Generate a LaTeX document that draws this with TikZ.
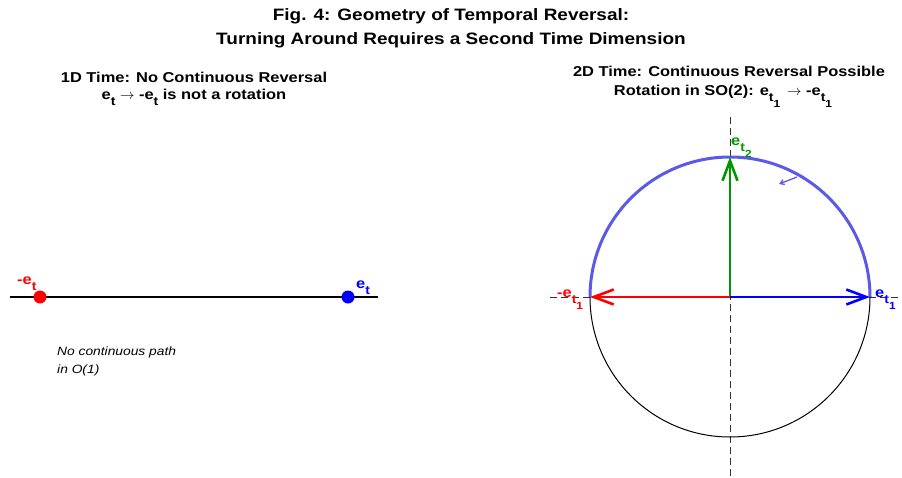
\documentclass[tikz,border=0pt]{standalone}
\usepackage{fontspec}
\setmainfont{Liberation Sans}[FakeStretch=1.15]
\usetikzlibrary{arrows.meta,positioning}
\definecolor{arcblue}{HTML}{5A5AE6}
\definecolor{vecgreen}{HTML}{009600}
\newcommand{\lowidx}[1]{\raisebox{-0.9ex}{\scalebox{0.85}{#1}}}

\begin{document}
\begin{tikzpicture}[
  x=1pt,
  y=-1pt,
  headline/.style={font=\fontsize{16.5}{20}\selectfont\bfseries, anchor=base, inner sep=0pt},
  subhead/.style={font=\fontsize{14.3}{17}\selectfont\bfseries, anchor=base, inner sep=0pt},
  veclabel/.style={font=\fontsize{14.3}{17}\selectfont\bfseries, anchor=base west, inner sep=0pt},
  note/.style={font=\fontsize{12}{14}\selectfont\itshape, anchor=base west, inner sep=0pt},
  dot/.style={circle, inner sep=0pt, minimum size=13pt},
  axisline/.style={line width=2pt},
  guide/.style={line width=0.8pt, black!80, dash pattern=on 7pt off 4pt},
  vec/.style={line width=2.8pt, -{Straight Barb[length=20pt,width=15pt,line width=2.6pt]}}
]
\useasboundingbox (0,0) rectangle (902,477);

\node[headline] (title1) at (451,20) {Fig. 4: Geometry of Temporal Reversal:};
\node[headline] (title2) at (451,44) {Turning Around Requires a Second Time Dimension};

\node[subhead] (leftHead1) at (194,82.5) {1D Time: No Continuous Reversal};
\node[subhead] (leftHead2) at (194,99) {e\lowidx{t} $\rightarrow$ -e\lowidx{t} is not a rotation};

\coordinate (lineL) at (10,297);
\coordinate (lineR) at (378,297);
\draw[axisline] (lineL) -- (lineR);
\node[dot, fill=red] (negDot) at (40,297) {};
\node[dot, fill=blue] (posDot) at (348,297) {};
\node[veclabel, red] (negLabel) at (17,284) {-e\lowidx{t}};
\node[veclabel, blue] (posLabel) at (356,288) {e\lowidx{t}};
\node[note] (note1) at (57,355) {No continuous path};
\node[note] (note2) at (57,373) {in O(1)};

\node[subhead] (rightHead1) at (729,76.5) {2D Time: Continuous Reversal Possible};
\node[subhead] (rightHead2) at (723,95) {Rotation in SO(2): e\lowidx{t\lowidx{1}}\, $\rightarrow$ -e\lowidx{t\lowidx{1}}};

\coordinate (origin) at (730,297);
\coordinate (guideTop) at (730,117);
\coordinate (guideBot) at (730,477);
\coordinate (guideL) at (550,297);
\coordinate (guideR) at (900,297);
\coordinate (tipE1) at (870,297);
\coordinate (tipNegE1) at (590,297);
\coordinate (tipE2) at (730,157);
\coordinate (spinA) at (797,177);
\coordinate (spinB) at (779,184);

\draw[guide] (guideTop) -- (guideBot);
\draw[guide] (guideL) -- (guideR);
\draw[line width=1pt] (origin) circle[radius=140];
\draw[arcblue, line width=3pt] (tipE1) arc[start angle=0, end angle=-180, radius=140];
\draw[arcblue, line width=1.3pt, -{Straight Barb[length=4pt,width=5pt]}] (spinA) -- (spinB);

\draw[vec, vecgreen] (origin) -- (tipE2);
\draw[vec, red] (origin) -- (tipNegE1);
\draw[vec, blue] (origin) -- (tipE1);

\node[veclabel, blue] (labelE1) at (875,297) {e\lowidx{t\lowidx{1}}};
\node[veclabel, red] (labelNegE1) at (557,297) {-e\lowidx{t\lowidx{1}}};
\node[veclabel, vecgreen] (labelE2) at (731,145) {e\lowidx{t\lowidx{2}}};
\end{tikzpicture}
\end{document}
